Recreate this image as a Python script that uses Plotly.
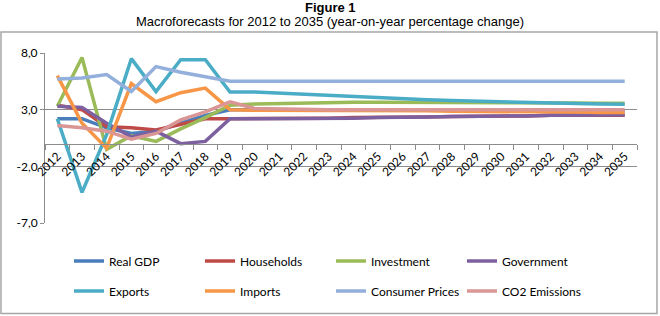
import plotly.graph_objects as go

years = [str(y) for y in range(2012, 2036)]

real_gdp = [2.2, 2.2, 1.4, 0.9, 1.1, 1.8, 2.5, 3.0, 3.0, 3.0, 3.0, 3.0, 3.0, 3.0, 3.0, 3.0,
            2.95, 2.95, 2.95, 2.9, 2.9, 2.9, 2.9, 2.9]
households = [3.4, 3.0, 1.5, 1.4, 1.2, 1.7, 2.2, 2.2, 2.2, 2.2, 2.25, 2.25, 2.3, 2.3, 2.35, 2.35,
              2.4, 2.4, 2.45, 2.45, 2.5, 2.5, 2.5, 2.5]
investment = [3.3, 7.6, -0.5, 0.7, 0.2, 1.3, 2.3, 3.4, 3.5, 3.55, 3.6, 3.65, 3.65, 3.65, 3.65, 3.65,
              3.65, 3.62, 3.6, 3.6, 3.6, 3.58, 3.57, 3.57]
government = [3.3, 3.2, 1.8, 0.6, 1.1, 0.0, 0.2, 2.2, 2.2, 2.2, 2.2, 2.2, 2.25, 2.3, 2.3, 2.35,
              2.4, 2.4, 2.45, 2.45, 2.5, 2.5, 2.5, 2.55]
exports = [2.2, -4.3, 0.8, 7.5, 4.6, 7.4, 7.4, 4.55, 4.55, 4.45, 4.35, 4.22, 4.13, 4.05, 3.95, 3.87,
           3.8, 3.74, 3.68, 3.63, 3.58, 3.54, 3.5, 3.48]
imports = [6.0, 1.8, -0.4, 5.3, 3.7, 4.5, 4.9, 3.0, 2.95, 2.95, 2.9, 2.9, 2.9, 2.9, 2.9, 2.9,
           2.85, 2.85, 2.85, 2.8, 2.8, 2.8, 2.75, 2.75]
consumer_prices = [5.7, 5.8, 6.1, 4.6, 6.8, 6.3, 5.9, 5.5, 5.5, 5.5, 5.5, 5.5, 5.5, 5.5, 5.5, 5.5,
                   5.5, 5.5, 5.5, 5.5, 5.5, 5.5, 5.5, 5.5]
co2 = [1.6, 1.4, 1.1, 0.4, 0.9, 2.1, 2.8, 3.7, 3.1, 3.05, 3.0, 3.0, 3.0, 3.0, 3.0, 3.0,
       3.0, 3.0, 3.0, 3.0, 3.0, 3.0, 3.0, 3.0]

y_tickvals = [-7, -2, 3, 8]
y_ticktext = ["-7,0", "-2,0", "3,0", "8,0"]

series = [
    ("Real GDP", real_gdp, "#4A7EBB", "legend"),
    ("Households", households, "#BE4B48", "legend"),
    ("Investment", investment, "#9BBB59", "legend"),
    ("Government", government, "#7D60A0", "legend"),
    ("Exports", exports, "#4BACC6", "legend2"),
    ("Imports", imports, "#F79646", "legend2"),
    ("Consumer Prices", consumer_prices, "#93AFDB", "legend2"),
    ("CO2 Emissions", co2, "#D99694", "legend2"),
]

FONT = "Lato"
GRAY = "#8c8c8c"
W, H = 660, 316

fig = go.Figure()
for name, vals, color, leg in series:
    fig.add_trace(go.Scatter(x=years, y=vals, name=name, mode="lines",
                             line=dict(color=color, width=3.5), legend=leg))

# plot area pixels: x 45..637, y 53..223
L, R, T, B = 45, 23, 53, 93
PW, PH = W - L - R, H - T - B

def px(x):
    return (x - L) / PW

def py(y):
    return (H - B - y) / PH

def cy(y):
    return (H - y) / H

leg_common = dict(orientation="h", xanchor="left", yanchor="middle",
                  xref="paper", yref="container",
                  entrywidth=86, entrywidthmode="pixels",
                  font=dict(family=FONT, size=12, color="black"),
                  bgcolor="rgba(0,0,0,0)", itemwidth=30)

fig.update_layout(
    width=W, height=H,
    margin=dict(l=L, r=R, t=T, b=B, autoexpand=False),
    paper_bgcolor="white", plot_bgcolor="white",
    showlegend=True,
    legend=dict(x=px(69), y=cy(261), **leg_common),
    legend2=dict(x=px(69), y=cy(291), **leg_common),
    xaxis=dict(type="category", range=[-0.5, 23.5], anchor="free", position=7 / 15,
               showgrid=False, showline=True, linecolor=GRAY, linewidth=1,
               ticks="outside", tickson="boundaries", ticklen=5, tickcolor=GRAY,
               tickangle=-45, tickfont=dict(family=FONT, size=12, color="black")),
    yaxis=dict(range=[-7, 8], tickvals=y_tickvals, ticktext=y_ticktext,
               showgrid=True, gridcolor=GRAY, gridwidth=1, zeroline=False,
               showline=True, linecolor=GRAY, linewidth=1,
               ticks="outside", ticklen=4, tickcolor=GRAY,
               tickfont=dict(family=FONT, size=12, color="black")),
    shapes=[dict(type="rect", xref="paper", yref="paper",
                 x0=px(1), x1=px(657), y0=py(313.5), y1=py(32),
                 line=dict(color="#a6a6a6", width=1.5), fillcolor="rgba(0,0,0,0)", layer="below")],
    annotations=[
        dict(text="<b>Figure 1</b>", xref="paper", yref="paper", x=px(330), y=py(7),
             xanchor="center", yanchor="middle", showarrow=False,
             font=dict(family="Liberation Sans", size=13, color="black")),
        dict(text="Macroforecasts for 2012 to 2035 (year-on-year percentage change)",
             xref="paper", yref="paper", x=px(330), y=py(22),
             xanchor="center", yanchor="middle", showarrow=False,
             font=dict(family="Liberation Sans", size=13, color="black")),
    ],
)

fig.write_html("out.html", config={"displayModeBar": False},
               post_script="document.body.style.margin='0';document.body.style.overflow='hidden';")
